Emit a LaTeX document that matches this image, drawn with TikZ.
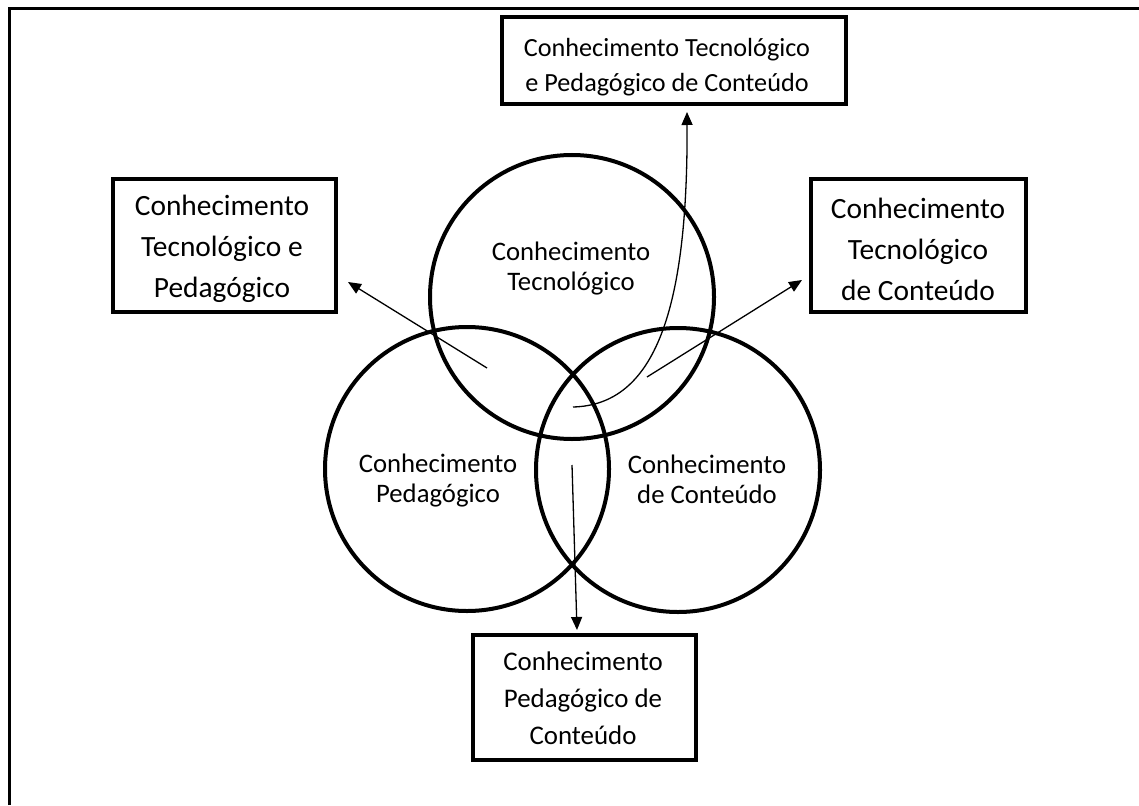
\documentclass[tikz,border=0pt]{standalone}
\usepackage{fontspec}
\setmainfont{Carlito}
\usetikzlibrary{arrows.meta}
\begin{document}
\begin{tikzpicture}[x=1pt,y=-1pt,
  ring/.style={circle,draw,line width=4pt,minimum size=284pt,inner sep=0pt},
  boxnode/.style={draw,line width=4.5pt,inner sep=0pt},
  ringtext/.style={align=center,inner sep=0pt,font=\fontsize{26.7}{30}\selectfont},
  sidetext/.style={align=center,inner sep=0pt,font=\fontsize{29.4}{41}\selectfont},
  toptext/.style={align=center,inner sep=0pt,font=\fontsize{26.2}{35}\selectfont},
  bottext/.style={align=center,inner sep=0pt,font=\fontsize{26.9}{37}\selectfont},
  link/.style={line width=1.3pt,-{Triangle[length=13pt,width=11pt]}}]
\useasboundingbox (0,0) rectangle (1139,805);

% frame lines (left and top)
\draw[line width=3pt] (9,805) -- (9,9) -- (1139,9);

% the three knowledge circles
\node[ring] (tech) at (572,297) {};
\node[ring] (ped)  at (467,469) {};
\node[ring] (cont) at (678,470) {};

\node[ringtext] (techT) at (571,269) {Conhecimento\\Tecnológico};
\node[ringtext] (pedT)  at (438,481) {Conhecimento\\Pedagógico};
\node[ringtext] (contT) at (707,479) {Conhecimento\\de Conteúdo};

% outer boxes
\node[boxnode,minimum width=344pt,minimum height=87pt] (bTPC) at (674,60.5) {};
\node[toptext] (tTPC) at (667,67) {Conhecimento Tecnológico\\e Pedagógico de Conteúdo};

\node[boxnode,minimum width=223pt,minimum height=133pt] (bTP) at (224.5,245.5) {};
\node[sidetext] (tTP) at (222,249) {Conhecimento\\Tecnológico e\\Pedagógico};

\node[boxnode,minimum width=215pt,minimum height=133pt] (bTC) at (918.5,245.5) {};
\node[sidetext] (tTC) at (918,249) {Conhecimento\\Tecnológico\\de Conteúdo};

\node[boxnode,minimum width=223pt,minimum height=125pt] (bPC) at (584.5,697.5) {};
\node[bottext] (tPC) at (583,698) {Conhecimento\\Pedagógico de\\Conteúdo};

% arrow ends
\coordinate (sTP) at (487,368);
\coordinate (eTP) at (348,282);
\coordinate (sTC) at (647,377);
\coordinate (eTC) at (802,280);
\coordinate (sTPC) at (573,407);
\coordinate (eTPC) at (687,112);
\coordinate (sPC) at (572,465);
\coordinate (ePC) at (577,630);

% connectors
\draw[link] (sTP) -- (eTP);
\draw[link] (sTC) -- (eTC);
\draw[link] (sTPC) .. controls (655,405) and (688,310) .. (eTPC);
\draw[link] (sPC) -- (ePC);
\end{tikzpicture}
\end{document}
